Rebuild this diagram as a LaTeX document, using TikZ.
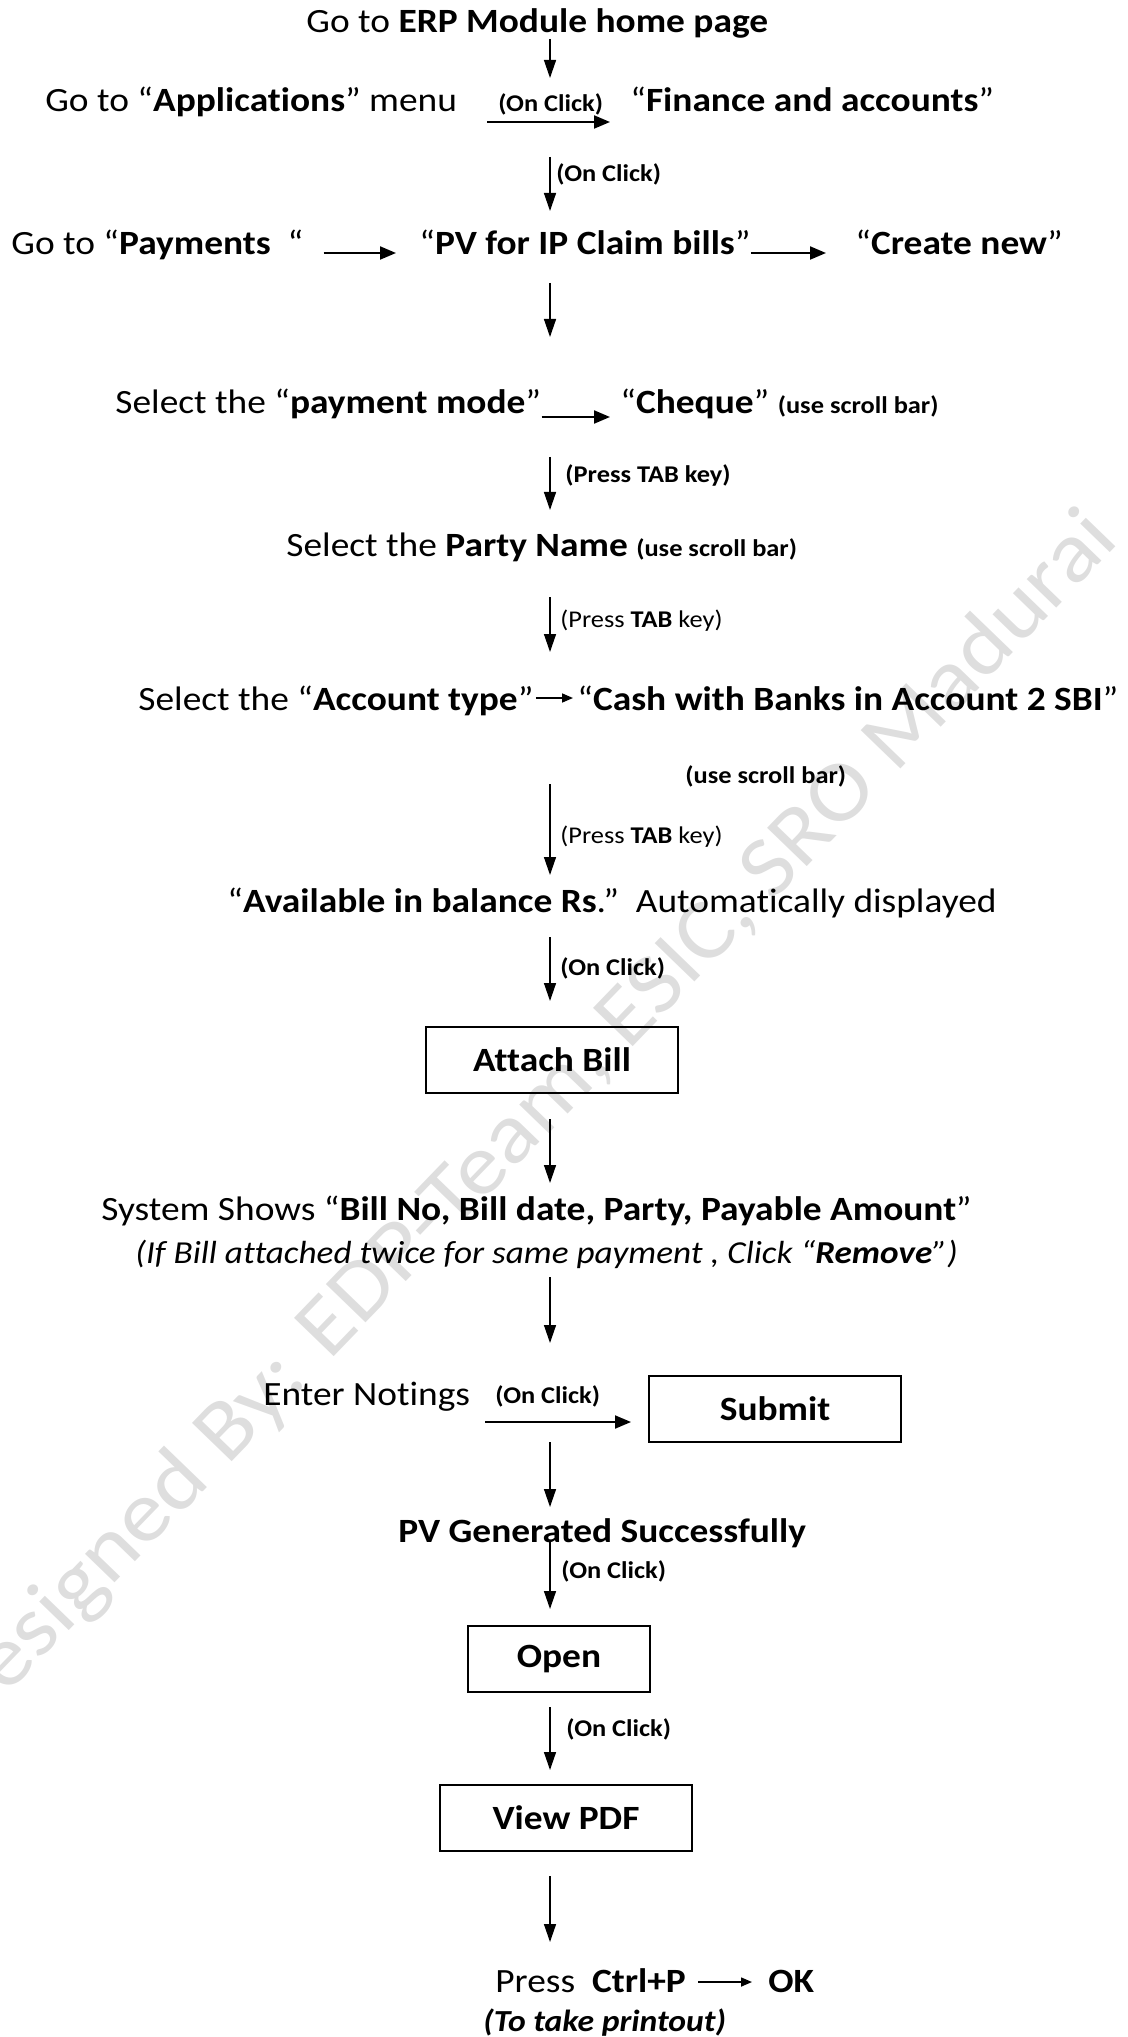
\documentclass[tikz,border=0pt]{standalone}
\usepackage{fontspec}
\setmainfont{Carlito}[FakeStretch=1.1, Ligatures=NoCommon]
\usetikzlibrary{arrows.meta}

\newlength{\du}
\setlength{\du}{0.5pt}

\tikzset{
  txt/.style={inner sep=0pt, anchor=base west, font=\fontsize{17}{20}\selectfont},
  lbl/.style={inner sep=0pt, anchor=base west, font=\fontsize{12}{14}\selectfont\bfseries},
  lblr/.style={inner sep=0pt, anchor=base west, font=\fontsize{12}{14}\selectfont},
  stepbox/.style={draw, line width=1pt, inner sep=0pt, minimum height=66\du,
    font=\fontsize{17}{20}\selectfont\bfseries},
  arr/.style={line width=0.7pt, -{Triangle[length=9pt,width=6pt]}},
  harr/.style={line width=1pt, -{Triangle[length=8pt,width=6.5pt]}},
  tarr/.style={line width=0.8pt, -{Triangle[length=5.5pt,width=4.5pt]}},
}

\begin{document}
\begin{tikzpicture}
\useasboundingbox (0,0) rectangle (1128\du,-2037\du);
% watermark
\node[rotate=46, text=black!13, inner sep=0pt, font=\fontsize{43}{50}\selectfont] (wmark)
  at (527\du,-1124\du) {Designed By: EDP-Team, ESIC, SRO Madurai};

% vertical line of the arrows
\coordinate (axis) at (550\du,0);

\node[txt] (erp) at (306\du,-33\du) {Go to \textbf{ERP Module home page}};
\node[txt] (appl) at (45\du,-112\du) {Go to “\textbf{Applications}” menu};
\node[lbl] (clk1) at (498\du,-112\du) {(On Click)};
\node[txt] (fin) at (630\du,-112\du) {“\textbf{Finance and accounts}”};
\node[lbl] (clk2) at (556\du,-182\du) {(On Click)};
\node[txt] (pay) at (11\du,-255\du) {Go to “\textbf{Payments}~~“};
\node[txt] (pv) at (419\du,-255\du) {“\textbf{PV for IP Claim bills}”};
\node[txt] (cn) at (855\du,-255\du) {“\textbf{Create new}”};
\node[txt] (pm) at (115\du,-414\du) {Select the “\textbf{payment mode}”};
\node[txt] (chq) at (620\du,-414\du) {“\textbf{Cheque}” {\fontsize{12}{14}\selectfont\bfseries (use scroll bar)}};
\node[lbl] (tab1) at (565\du,-483\du) {(Press TAB key)};
\node[txt] (party) at (286\du,-557\du) {Select the \textbf{Party Name} {\fontsize{12}{14}\selectfont\bfseries (use scroll bar)}};
\node[lblr] (tab2) at (560\du,-627\du) {(Press \textbf{TAB} key)};
\node[txt] (acc) at (138\du,-710\du) {Select the “\textbf{Account type}”};
\node[txt] (cash) at (577\du,-710\du) {“\textbf{Cash with Banks in Account 2 SBI}”};
\node[lbl] (usb) at (685\du,-783\du) {(use scroll bar)};
\node[lblr] (tab3) at (560\du,-843\du) {(Press \textbf{TAB} key)};
\node[txt] (avail) at (227\du,-912\du) {“\textbf{Available in balance Rs}.”~~Automatically displayed};
\node[lbl] (clk3) at (560\du,-975\du) {(On Click)};
\node[stepbox, minimum width=252\du] (attach) at (552\du,-1060\du) {Attach Bill};
\node[txt] (sys) at (101\du,-1220\du) {System Shows “\textbf{Bill No, Bill date, Party, Payable Amount}”};
\node[txt, font=\fontsize{16}{19}\selectfont] (note) at (135\du,-1263\du) {\textit{(If Bill attached twice for same payment , Click “\textbf{Remove}”)}};
\node[txt] (notes) at (263\du,-1405\du) {Enter Notings};
\node[lbl] (clk4) at (495\du,-1403\du) {(On Click)};
\node[stepbox, minimum width=252\du] (submit) at (775\du,-1409\du) {Submit};
\node[txt] (pvgen) at (398\du,-1542\du) {\textbf{PV Generated Successfully}};
\node[lbl] (clk5) at (561\du,-1578\du) {(On Click)};
\node[stepbox, minimum width=182\du] (open) at (559\du,-1659\du) {Open};
\node[lbl] (clk6) at (566\du,-1736\du) {(On Click)};
\node[stepbox, minimum width=252\du] (view) at (566\du,-1818\du) {View PDF};
\node[txt] (press) at (495\du,-1992\du) {Press~~\textbf{Ctrl+P}};
\node[txt] (ok) at (768\du,-1992\du) {\textbf{OK}};
\node[txt, font=\fontsize{15.3}{18}\selectfont] (prt) at (483\du,-2031\du) {\textbf{\textit{(To take printout)}}};

% down arrows
\draw[arr,shorten <=6\du,shorten >=34\du] (erp.base -| axis) -- (appl.base -| axis);
\draw[arr,shorten <=45\du,shorten >=44\du] (fin.base -| axis) -- (pv.base -| axis);
\draw[arr,shorten <=28\du,shorten >=77\du] (pv.base -| axis) -- (pm.base -| axis);
\draw[arr,shorten <=43\du,shorten >=47\du] (chq.base -| axis) -- (party.base -| axis);
\draw[arr,shorten <=40\du,shorten >=58\du] (party.base -| axis) -- (acc.base -| axis);
\draw[arr,shorten <=1\du,shorten >=37\du] (usb.base -| axis) -- (avail.base -| axis);
\draw[arr,shorten <=25\du,shorten >=25\du] (avail.base -| axis) -- (attach.north -| axis);
\draw[arr,shorten <=25\du,shorten >=37\du] (attach.south -| axis) -- (sys.base -| axis);
\draw[arr,shorten <=14\du,shorten >=62\du] (note.base -| axis) -- (notes.base -| axis);
\draw[arr,shorten <=37\du,shorten >=35\du] (notes.base -| axis) -- (pvgen.base -| axis);
\draw[arr,shorten >=16\du] (pvgen.base -| axis) -- (open.north -| axis);
\draw[arr,shorten <=14\du,shorten >=14\du] (open.south -| axis) -- (view.north -| axis);
\draw[arr,shorten <=24\du,shorten >=50\du] (view.south -| axis) -- (press.base -| axis);

% side arrows
\draw[harr,shorten <=30\du,shorten >=20\du] ([yshift=-10\du]appl.base east) -- ([yshift=-10\du]fin.base west);
\draw[harr,shorten <=20\du,shorten >=23\du] ([yshift=2\du]pay.base east) -- ([yshift=2\du]pv.base west);
\draw[harr,shorten >=29\du] ([yshift=2\du]pv.base east) -- ([yshift=2\du]cn.base west);
\draw[harr,shorten >=10\du] ([yshift=-3\du]pm.base east) -- ([yshift=-3\du]chq.base west);
\draw[tarr,shorten <=2\du,shorten >=4\du] ([yshift=12\du]acc.base east) -- ([yshift=12\du]cash.base west);
\coordinate (nb) at ([yshift=-17\du]notes.base east);
\draw[harr,shorten <=15\du,shorten >=17\du] (nb) -- (nb -| submit.west);
\draw[tarr,shorten <=12\du,shorten >=16\du] ([yshift=10\du]press.base east) -- ([yshift=10\du]ok.base west);
\end{tikzpicture}
\end{document}
